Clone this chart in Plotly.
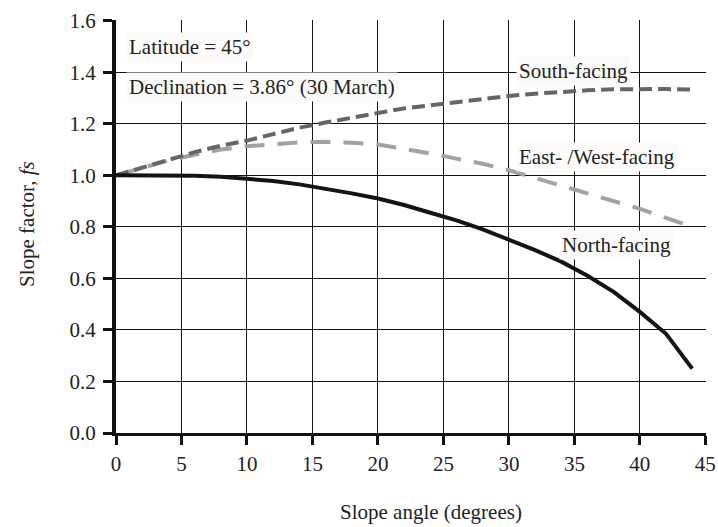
import plotly.graph_objects as go

# Slope angle (degrees)
slope_angle = [0, 2, 4, 6, 8, 10, 12, 14, 16, 18, 20, 22, 24, 26, 28, 30, 32, 34, 36, 38, 40, 42, 44]

# Slope factor fs for each aspect
south_facing = [1.000, 1.030, 1.060, 1.090, 1.115, 1.135, 1.160, 1.185, 1.205, 1.225, 1.242, 1.260,
                1.272, 1.284, 1.297, 1.308, 1.317, 1.325, 1.330, 1.334, 1.335, 1.335, 1.333]
east_west_facing = [1.000, 1.030, 1.058, 1.080, 1.100, 1.113, 1.122, 1.128, 1.130, 1.127, 1.120, 1.104,
                    1.085, 1.065, 1.045, 1.020, 0.990, 0.960, 0.930, 0.900, 0.870, 0.835, 0.800]
north_facing = [1.000, 1.000, 1.000, 0.998, 0.995, 0.988, 0.978, 0.965, 0.948, 0.930, 0.910, 0.885,
                0.855, 0.825, 0.790, 0.752, 0.710, 0.665, 0.610, 0.548, 0.470, 0.385, 0.250]

x_ticks = [0, 5, 10, 15, 20, 25, 30, 35, 40, 45]
y_ticks = [0.0, 0.2, 0.4, 0.6, 0.8, 1.0, 1.2, 1.4, 1.6]
y_tick_text = [f"{v:.1f}" for v in y_ticks]

FONT = "Liberation Serif, Times New Roman, serif"
TEXT = "#222222"

fig = go.Figure()

fig.add_trace(go.Scatter(
    x=slope_angle, y=east_west_facing, mode="lines", name="East- /West-facing",
    line=dict(color="#a2a2a2", width=4, dash="20px,13px"),
))
fig.add_trace(go.Scatter(
    x=slope_angle, y=south_facing, mode="lines", name="South-facing",
    line=dict(color="#666666", width=4, dash="13px,6px"),
))
fig.add_trace(go.Scatter(
    x=slope_angle, y=north_facing, mode="lines", name="North-facing",
    line=dict(color="#141414", width=4),
))

label_font = dict(family=FONT, size=21, color=TEXT)
label_bg = "#fcfbf9"

notes = [
    ("Latitude = 45°", 0.8, 1.497, "left"),
    ("Declination = 3.86° (30 March)", 0.8, 1.342, "left"),
    ("South-facing", 34.9, 1.407, "center"),
    ("East- /West-facing", 36.7, 1.073, "center"),
    ("North-facing", 38.2, 0.728, "center"),
]
for text, x, y, anchor in notes:
    fig.add_annotation(
        x=x, y=y, xref="x", yref="y", text=text, showarrow=False,
        xanchor=anchor, yanchor="middle", font=label_font,
        bgcolor=label_bg, borderpad=2,
    )

fig.update_xaxes(
    range=[0, 45.05], tickvals=x_ticks, ticks="outside", ticklen=9, tickwidth=3,
    tickcolor="#111111", showline=True, linewidth=3, linecolor="#111111",
    showgrid=True, gridcolor="#111111", gridwidth=1, zeroline=False,
    tickfont=dict(family=FONT, size=21, color=TEXT),
    ticklabelstandoff=1, automargin=False,
)
fig.update_yaxes(
    range=[0, 1.603], tickvals=y_ticks, ticktext=y_tick_text, ticks="outside",
    ticklen=9, tickwidth=3, tickcolor="#111111", showline=True, linewidth=4,
    linecolor="#111111", showgrid=True, gridcolor="#111111", gridwidth=1,
    zeroline=False, tickfont=dict(family=FONT, size=21, color=TEXT),
    ticklabelstandoff=3, automargin=False,
)

# Axis titles, positioned in paper fractions of the 413 px tall / 590 px wide plot area
plot_h, plot_w = 413, 590
fig.add_annotation(
    x=(431 - 116) / plot_w, y=-(512 - 433) / plot_h, xref="paper", yref="paper",
    text="Slope angle (degrees)", showarrow=False, yanchor="middle",
    font=dict(family=FONT, size=21, color=TEXT),
)
fig.add_annotation(
    x=-(116 - 27) / plot_w, y=(433 - 224) / plot_h, xref="paper", yref="paper",
    text="Slope factor, <i>fs</i>", showarrow=False, textangle=-90,
    xanchor="center", yanchor="middle",
    font=dict(family=FONT, size=21, color=TEXT),
)

fig.update_layout(
    width=718, height=527,
    margin=dict(l=116, r=12, t=20, b=94),
    paper_bgcolor="white", plot_bgcolor="white",
    showlegend=False,
    font=dict(family=FONT, color=TEXT),
)

fig.write_html("out.html")
